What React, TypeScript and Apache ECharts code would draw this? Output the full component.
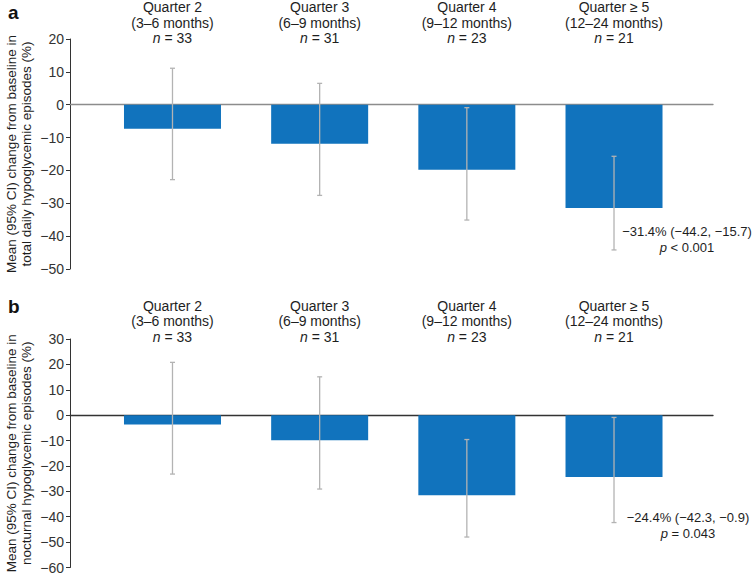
import React, { useEffect, useRef } from "react";
import * as echarts from "echarts";

const categories = ["Quarter 2", "Quarter 3", "Quarter 4", "Quarter \u2265 5"];
const periods = ["(3\u20136 months)", "(6\u20139 months)", "(9\u201312 months)", "(12\u201324 months)"];
const nValues = [33, 31, 23, 21];

const totalMean = [-7.3, -11.9, -19.8, -31.4];
const totalLower = [-22.8, -27.6, -35.1, -44.2];
const totalUpper = [11.1, 6.5, -0.9, -15.7];

const nocturnalMean = [-3.7, -9.9, -31.5, -24.4];
const nocturnalLower = [-23.2, -29.1, -48.0, -42.3];
const nocturnalUpper = [20.8, 15.1, -9.6, -0.9];

const totalAxis = { min: -50, max: 20, interval: 10 };
const nocturnalAxis = { min: -60, max: 30, interval: 10 };

const totalTitle = ["Mean (95% CI) change from baseline in", "total daily hypoglycemic episodes (%)"];
const nocturnalTitle = ["Mean (95% CI) change from baseline in", "nocturnal hypoglycemic episodes (%)"];

const totalNote = ["\u221231.4% (\u221244.2, \u221215.7)", "{i|p} < 0.001"];
const nocturnalNote = ["\u221224.4% (\u221242.3, \u22120.9)", "{i|p} = 0.043"];

const FONT = "'Liberation Sans', Arial, Helvetica, sans-serif";
const TEXT = "#1e1e1e";
const BAR = "#1173bd";
const ERR = "#b3b3b3";

export default function App() {
  const ref = useRef<HTMLDivElement>(null);
  useEffect(() => {
    if (!ref.current) return;
    const chart = echarts.init(ref.current, undefined, { renderer: "svg" });

    const panels = [
      { mean: totalMean, lo: totalLower, hi: totalUpper, axis: totalAxis, zero: "#8c8c8c", margin: -7,
        top: 39, height: 230, title: totalTitle },
      { mean: nocturnalMean, lo: nocturnalLower, hi: nocturnalUpper, axis: nocturnalAxis, zero: "#333333", margin: -5.5,
        top: 339, height: 228.5, title: nocturnalTitle },
    ];

    const grid: any[] = [];
    const xAxis: any[] = [];
    const yAxis: any[] = [];
    const series: any[] = [];
    const nameStyle = { color: TEXT, fontSize: 13.5, fontFamily: FONT };
    panels.forEach((p) => {
      // frame grid: y axis + zero line
      const fi = grid.length;
      grid.push({ left: 70, width: 643, top: p.top, height: p.height, containLabel: false, outerBoundsMode: "none" });
      xAxis.push({
        type: "value", gridIndex: fi, min: 0, max: 1, position: "bottom",
        axisLine: { show: true, onZero: true, lineStyle: { color: p.zero, width: 1.3 } },
        axisTick: { show: false }, axisLabel: { show: false }, splitLine: { show: false },
      });
      const yi = yAxis.length;
      yAxis.push({
        type: "value", gridIndex: fi, position: "left", min: p.axis.min, max: p.axis.max, interval: p.axis.interval,
        axisLine: { show: true, onZero: false, lineStyle: { color: "#333", width: 1 } },
        axisTick: { show: true, length: 4, lineStyle: { color: "#333" } },
        axisLabel: {
          color: "#333", fontSize: 14, fontFamily: FONT, margin: 6,
          formatter: (v: number) => (v < 0 ? "\u2212" + Math.abs(v) : String(v)),
        },
        splitLine: { show: false },
        name: p.title[0], nameLocation: "middle", nameRotate: 90, nameGap: 52, nameTextStyle: nameStyle,
      });
      yAxis.push({
        type: "value", gridIndex: fi, position: "left", min: p.axis.min, max: p.axis.max,
        axisLine: { show: false, onZero: false }, axisTick: { show: false }, axisLabel: { show: false },
        splitLine: { show: false },
        name: p.title[1], nameLocation: "middle", nameRotate: 90, nameGap: 37, nameTextStyle: nameStyle,
      });
      series.push({ type: "line", xAxisIndex: fi, yAxisIndex: yi, data: [], silent: true });
      series.push({ type: "line", xAxisIndex: fi, yAxisIndex: yi + 1, data: [], silent: true });

      // category grid aligned with the bars
      const ci = grid.length;
      grid.push({ left: 98.9, width: 588.7, top: p.top, height: p.height, containLabel: false, outerBoundsMode: "none" });
      xAxis.push({
        type: "category", gridIndex: ci, data: categories, position: "top", boundaryGap: true,
        axisLine: { show: false, onZero: false }, axisTick: { show: false }, splitLine: { show: false },
        axisLabel: {
          show: true, interval: 0, margin: p.margin, color: TEXT, fontSize: 14, fontFamily: FONT,
          lineHeight: 15.5, align: "center",
          formatter: (v: string, idx: number) => `${v}\n${periods[idx]}\n{i|n} = ${nValues[idx]}`,
          rich: { i: { fontStyle: "italic", fontSize: 14, fontFamily: FONT, color: TEXT, lineHeight: 15.5 } },
        },
      });
      const cy = yAxis.length;
      yAxis.push({ type: "value", gridIndex: ci, show: false, min: p.axis.min, max: p.axis.max, splitLine: { show: false } });
      const cx = xAxis.length - 1;
      series.push({
        type: "bar", xAxisIndex: cx, yAxisIndex: cy, barWidth: 97,
        itemStyle: { color: BAR },
        data: p.mean,
        z: 2,
      });
      series.push({
        type: "custom", xAxisIndex: cx, yAxisIndex: cy, z: 5,
        data: p.lo.map((v, i) => [i, v, p.hi[i]]),
        encode: { x: 0, y: [1, 2] },
        renderItem: (params: any, api: any) => {
          const x = api.value(0);
          const a = api.coord([x, api.value(1)]);
          const b = api.coord([x, api.value(2)]);
          const st = { stroke: ERR, lineWidth: 1.3 };
          return {
            type: "group",
            children: [
              { type: "line", shape: { x1: a[0], y1: a[1], x2: b[0], y2: b[1] }, style: st },
              { type: "line", shape: { x1: a[0] - 2.5, y1: a[1], x2: a[0] + 2.5, y2: a[1] }, style: st },
              { type: "line", shape: { x1: b[0] - 2.5, y1: b[1], x2: b[0] + 2.5, y2: b[1] }, style: st },
            ],
          };
        },
      });
    });

    const noteText = (x: number, y: number, t: string) => ({
      type: "text", x, y,
      style: {
        text: t, fill: TEXT, font: `13px ${FONT}`, align: "center", verticalAlign: "middle",
        rich: { i: { fontStyle: "italic", fontSize: 13, fontFamily: FONT, fill: TEXT } },
      },
    });

    chart.setOption({
      animation: false,
      backgroundColor: "#ffffff",
      grid,
      xAxis, yAxis, series,
      graphic: [
        { type: "text", x: 8, y: 12, style: { text: "a", fill: "#111", font: `bold 19px ${FONT}`, verticalAlign: "middle" } },
        { type: "text", x: 8, y: 306, style: { text: "b", fill: "#111", font: `bold 19px ${FONT}`, verticalAlign: "middle" } },
        noteText(687, 231, totalNote[0]),
        noteText(687, 247, totalNote[1]),
        noteText(688, 517, nocturnalNote[0]),
        noteText(688, 533, nocturnalNote[1]),
      ],
    });
    return () => chart.dispose();
  }, []);
  return <div ref={ref} style={{ position: "fixed", left: 0, top: 0, width: 755, height: 576 }} />;
}
